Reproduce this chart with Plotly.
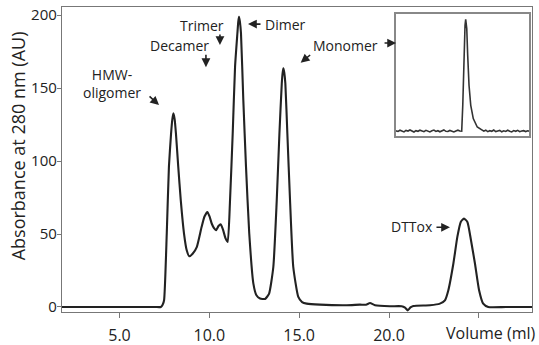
import plotly.graph_objects as go

# ---- main chromatogram (volume in ml, absorbance in AU) ----
volume_ml = [1.80, 4.00, 6.00, 7.00, 7.30, 7.40, 7.48, 7.63, 7.75, 7.87, 7.94, 8.00, 8.07,
             8.14, 8.27, 8.41, 8.59, 8.74, 8.88, 9.07, 9.30, 9.57, 9.73, 9.89, 10.01,
             10.13, 10.26, 10.37, 10.51, 10.63, 10.76, 10.90, 11.02, 11.15, 11.30, 11.43,
             11.56, 11.61, 11.65, 11.70, 11.76, 11.89, 12.04, 12.22, 12.45, 12.62, 12.82,
             13.10, 13.32, 13.56, 13.75, 13.90, 14.03, 14.08, 14.12, 14.17, 14.23, 14.34,
             14.49, 14.67, 14.95, 15.16, 15.42, 16.16, 17.64, 18.38, 18.72, 18.94, 19.22,
             20.05, 20.70, 20.89, 21.04, 21.19, 21.35, 22.28, 22.83, 23.11, 23.30, 23.58,
             23.80, 23.99, 24.17, 24.36, 24.56, 24.78, 25.01, 25.24, 25.52, 26.50, 27.96]
absorbance = [0.0, 0.0, 0.0, 0.0, 0.0, 1.5, 4.6, 50.3, 96.0, 118.9, 128.5, 132.6, 128.5,
              118.9, 96.0, 73.0, 50.3, 38.9, 34.8, 36.5, 41.0, 54.9, 62.0, 65.1, 62.0,
              57.2, 54.0, 52.6, 55.5, 56.7, 53.0, 47.0, 44.6, 73.0, 119.0, 164.5,
              187.5, 195.5, 198.8, 195.5, 187.5, 141.7, 96.0, 50.3, 16.0, 8.0, 5.8,
              5.5, 9.0, 27.4, 73.0, 119.0, 153.0, 160.5, 163.5, 160.5, 153.0, 119.0,
              73.0, 27.4, 6.9, 3.4, 2.3, 1.6, 1.2, 1.6, 1.6, 2.7, 1.2,
              0.5, 0.5, -0.5, -2.3, -0.3, 0.7, 1.2, 2.3, 4.6, 11.5, 29.8,
              48.0, 58.3, 60.6, 58.3, 45.7, 29.8, 11.5, 2.3, 0.0, 0.0, 0.0]

y_tick_vals = [0, 50, 100, 150, 200]
x_tick_vals = [5, 10, 15, 20, 25]
x_tick_text = ["5.0", "10.0", "15.0", "20.0", ""]

# ---- inset trace (arbitrary units) ----
inset_x = [0, 1.5, 3, 4.5, 6, 7.5, 9, 10.5, 12, 13.5, 15, 16.5, 18, 19.5, 21, 22.5, 24,
           25.5, 27, 28.5, 30, 31.5, 33, 34.5, 36, 37.5, 39, 40.5, 42, 43.5, 45, 46.5, 48,
           49.4, 50.2, 51.1, 51.9, 52.4, 53.2, 53.9, 54.9, 56.2, 58.1, 61.1, 64.4,
           66, 67.5, 69, 70.5, 72, 73.5, 75, 76.5, 78, 79.5, 81, 82.5, 84, 85.5, 87,
           88.5, 90, 91.5, 93, 94.5, 96, 97.5, 99, 100]
inset_y = [4.5, 4.0, 5.0, 4.2, 3.6, 4.8, 4.3, 5.2, 4.0, 3.5, 4.6, 4.1, 5.0, 4.4, 3.8, 4.9, 4.2,
           3.6, 4.5, 5.1, 4.0, 4.6, 3.7, 4.3, 5.2, 4.1, 3.9, 4.8, 4.2, 3.6, 4.4, 5.0, 4.3,
           4.2, 25.4, 66.4, 91.0, 95.9, 88.3, 66.4, 41.8, 25.4, 14.5, 7.6, 4.9,
           4.2, 5.0, 3.8, 4.6, 4.1, 5.1, 3.9, 4.4, 4.8, 3.7, 4.5, 4.0, 5.0, 4.2, 3.6,
           4.7, 4.1, 4.9, 3.8, 4.4, 4.6, 3.9, 4.5, 4.2]

FONT = "Open Sans"
INK = "#222222"
AXIS = "#777777"

fig = go.Figure()
fig.add_trace(go.Scatter(x=volume_ml, y=absorbance, mode="lines",
                         line=dict(color=INK, width=2.1, shape="spline", smoothing=0.5),
                         hoverinfo="skip", showlegend=False))
fig.add_trace(go.Scatter(x=inset_x, y=inset_y, mode="lines", xaxis="x2", yaxis="y2",
                         line=dict(color="#333333", width=1.6),
                         hoverinfo="skip", showlegend=False))

ann = []
def label(text, x, y):
    ann.append(dict(text=text, x=x, y=y, xref="x", yref="y", showarrow=False,
                    font=dict(family=FONT, size=14, color=INK),
                    xanchor="center", yanchor="middle"))

def arrow(x, y, ax, ay):
    ann.append(dict(text="", x=x, y=y, xref="x", yref="y", ax=ax, ay=ay,
                    showarrow=True, arrowhead=2, arrowsize=1.1, arrowwidth=1.6,
                    arrowcolor=INK, standoff=0, startstandoff=0))

label("HMW-<br>oligomer", 4.60, 153.2)
arrow(7.20, 138.3, -11, -10)
label("Decamer", 8.34, 179.4)
arrow(9.81, 164.3, 0, -14)
label("Trimer", 9.59, 193.1)
arrow(10.59, 179.4, 0, -12)
arrow(12.15, 193.8, 14, 0)
label("Dimer", 14.24, 193.8)
label("Monomer", 17.55, 179.4)
arrow(20.39, 180.8, -13, 0)
arrow(15.08, 167.3, 11, -9)
label("DTTox", 21.30, 54.9)
arrow(23.39, 54.6, -15, 0)

ann.append(dict(text="Volume (ml)", x=(490.5 - 62) / 470, y=(311.7 - 344.5) / 305,
                xref="paper", yref="paper", showarrow=False,
                font=dict(family=FONT, size=16, color=INK),
                xanchor="center", yanchor="bottom", borderpad=0))
ann.append(dict(text="Absorbance at 280 nm (AU)", x=(18 - 62) / 470, y=(311.7 - 146) / 305,
                xref="paper", yref="paper", showarrow=False, textangle=-90,
                font=dict(family=FONT, size=18, color=INK),
                xanchor="center", yanchor="middle", borderpad=0))

fig.update_layout(
    width=539, height=345,
    margin=dict(l=62, r=7, t=7, b=33, pad=0, autoexpand=False),
    paper_bgcolor="white", plot_bgcolor="white",
    font=dict(family=FONT, color=INK),
    annotations=ann,
    xaxis=dict(range=[1.80, 27.955], tickvals=x_tick_vals, ticktext=x_tick_text,
               ticks="outside", ticklen=5, tickcolor=AXIS, tickwidth=1.3,
               showline=True, linecolor=AXIS, linewidth=1.3, mirror=True,
               showgrid=False, zeroline=False, automargin=False, ticklabelstandoff=4,
               tickfont=dict(family=FONT, size=16, color=INK)),
    yaxis=dict(range=[-3.43, 205.5], tickvals=y_tick_vals,
               ticks="outside", ticklen=4, tickcolor=AXIS, tickwidth=1.3,
               showline=True, linecolor=AXIS, linewidth=1.3, mirror=True,
               showgrid=False, zeroline=False, automargin=False, ticklabelstandoff=-3,
               tickfont=dict(family=FONT, size=15, color=INK)),
    xaxis2=dict(domain=[(396 - 62) / 470, (529 - 62) / 470], anchor="y2", range=[0, 100],
                showticklabels=False, ticks="", showgrid=False, zeroline=False,
                showline=True, linecolor="#888888", linewidth=1.5, mirror=True),
    yaxis2=dict(domain=[(311.7 - 136) / 305, (311.7 - 14) / 305], anchor="x2", range=[0, 100],
                showticklabels=False, ticks="", showgrid=False, zeroline=False,
                showline=True, linecolor="#888888", linewidth=1.5, mirror=True),
)

fig.write_html("out.html", config={"displayModeBar": False},
               post_script="document.body.style.margin='0';document.body.style.overflow='hidden';")
